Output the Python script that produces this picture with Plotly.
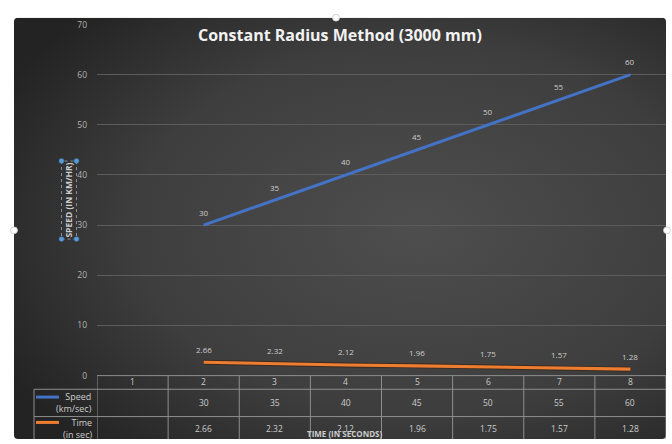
import base64
import plotly.graph_objects as go

# ---- data ----
categories = [1, 2, 3, 4, 5, 6, 7, 8]
speed = [None, 30, 35, 40, 45, 50, 55, 60]
time_sec = [None, 2.66, 2.32, 2.12, 1.96, 1.75, 1.57, 1.28]
series_names = ["Speed<br>(km/sec)", "Time<br>(in sec)"]
title_text = "Constant Radius Method (3000 mm)"
y_title = "SPEED (IN KM/HR)"
x_title = "TIME (IN SECONDS)"

W, H = 672, 444
BLUE = "#4472C4"
ORANGE = "#ED7D31"
LBL = "#cccccc"
GRID = "#5c5c5c"
TBL = "#8e8e8e"
FONT = "Open Sans"


def px(x):
    return x / W


def py(y):
    return 1 - y / H


def ann(x, y, text, size=8.5, color=LBL, xref="paper", yref="paper", **kw):
    d = dict(x=x, y=y, xref=xref, yref=yref, text=text, showarrow=False,
             xanchor="center", yanchor="middle", font=dict(size=size, color=color, family=FONT))
    d.update(kw)
    return d


svg = (
    "<svg xmlns='http://www.w3.org/2000/svg' width='652' height='432'>"
    "<defs><radialGradient id='g' cx='0.62' cy='0.5' r='0.72'>"
    "<stop offset='0' stop-color='#4e4e4e'/><stop offset='0.6' stop-color='#3e3e3e'/>"
    "<stop offset='1' stop-color='#232323'/></radialGradient></defs>"
    "<rect width='652' height='432' rx='4' fill='url(#g)'/></svg>"
)
bg_uri = "data:image/svg+xml;base64," + base64.b64encode(svg.encode()).decode()

fig = go.Figure()
fig.add_trace(go.Scatter(x=categories, y=speed, mode="lines",
                         line=dict(color=BLUE, width=3), hoverinfo="skip", showlegend=False))
fig.add_trace(go.Scatter(x=categories, y=time_sec, mode="lines",
                         line=dict(color="#3a2a20", width=5), hoverinfo="skip", showlegend=False))
fig.add_trace(go.Scatter(x=categories, y=time_sec, mode="lines",
                         line=dict(color=ORANGE, width=3.2), hoverinfo="skip", showlegend=False))

annotations = []
shapes = []

# data labels
for c, v in zip(categories, speed):
    if v is not None:
        annotations.append(ann(c, v, str(v), size=8, xref="x", yref="y", yshift=13))
for c, v in zip(categories, time_sec):
    if v is not None:
        annotations.append(ann(c, v, f"{v:.2f}", size=8, xref="x", yref="y", yshift=13))

# title & axis titles
annotations.append(ann(px(340), py(30), f"<b>{title_text}</b>", size=16, color="#f2f2f2"))
annotations.append(ann(px(68.5), py(199), f"<b>{y_title}</b>", size=8.5, textangle=-90))
annotations.append(ann(px(345), py(438), f"<b>{x_title}</b>", size=8))

# data table
row_hdr, row_s, row_t = py(385.5), py(407), py(433)
for c in categories:
    annotations.append(ann(c, row_hdr, str(c), xref="x"))
for c, v in zip(categories, speed):
    annotations.append(ann(c, row_s, "" if v is None else str(v), xref="x"))
for c, v in zip(categories, time_sec):
    annotations.append(ann(c, row_t, "" if v is None else f"{v:.2f}", xref="x"))

# legend keys in table
for name, yy, col in [(series_names[0], row_s, BLUE), (series_names[1], row_t, ORANGE)]:
    annotations.append(ann(px(94), yy, name, size=9, xanchor="right", align="right"))
    shapes.append(dict(type="line", xref="paper", yref="paper", x0=px(36), x1=px(59),
                       y0=yy + 6 / H, y1=yy + 6 / H, line=dict(color=col, width=3)))

# table lines
ymin_pap = py(444)
shapes.append(dict(type="line", xref="x", yref="paper", x0=0.5, x1=8.5, y0=py(379), y1=py(379),
                   line=dict(color=TBL, width=1)))
for yl in [393, 421]:
    shapes.append(dict(type="line", xref="paper", yref="paper", x0=px(34), x1=px(666), y0=py(yl), y1=py(yl),
                       line=dict(color=TBL, width=1)))
shapes.append(dict(type="line", xref="paper", yref="paper", x0=px(34), x1=px(34), y0=py(393), y1=ymin_pap,
                   line=dict(color=TBL, width=1)))
for i in range(len(categories) + 1):
    xe = categories[0] - 0.5 + i
    shapes.append(dict(type="line", xref="x", yref="paper", x0=xe, x1=xe, y0=py(379), y1=ymin_pap,
                       line=dict(color=TBL, width=1)))

# selection box around y title
shapes.append(dict(type="rect", xref="paper", yref="paper", x0=px(61.5), x1=px(76.5), y0=py(239), y1=py(159),
                   line=dict(color="#9aa8b8", width=0.8, dash="dot")))
for hx, hy in [(61.5, 159), (76.5, 159), (61.5, 239), (76.5, 239)]:
    shapes.append(dict(type="circle", xref="paper", yref="paper", x0=px(hx - 2.5), x1=px(hx + 2.5),
                       y0=py(hy + 2.5), y1=py(hy - 2.5), fillcolor="#5b9bd5",
                       line=dict(color="#3a78b5", width=0.5)))
# chart selection handles
for hx, hy in [(14, 230), (336, 12), (667, 230)]:
    shapes.append(dict(type="circle", xref="paper", yref="paper", x0=px(hx - 3.5), x1=px(hx + 3.5),
                       y0=py(hy + 3.5), y1=py(hy - 3.5), fillcolor="#ffffff",
                       line=dict(color="#c8c8c8", width=0.8), layer="above"))

fig.update_layout(
    width=W, height=H,
    autosize=False,
    margin=dict(l=0, r=0, t=0, b=0),
    paper_bgcolor="white",
    plot_bgcolor="rgba(0,0,0,0)",
    showlegend=False,
    images=[dict(source=bg_uri, xref="paper", yref="paper", x=px(14), y=py(12),
                 sizex=652 / W, sizey=432 / H, sizing="stretch", layer="below",
                 xanchor="left", yanchor="top")],
    xaxis=dict(domain=[px(97), px(666)], range=[0.5, 8.5], showticklabels=False, showgrid=False,
               zeroline=False, showline=False, fixedrange=True),
    yaxis=dict(domain=[py(379), py(19)], range=[0, 70], tickvals=[0, 10, 20, 30, 40, 50, 60, 70],
               showgrid=True, gridcolor=GRID, gridwidth=1, zeroline=False, showline=False,
               ticks="", ticklabelstandoff=9,
               tickfont=dict(size=8.5, color="#b4b4b4", family=FONT), fixedrange=True),
    annotations=annotations,
    shapes=shapes,
)

post = (
    "document.body.style.margin='0';document.body.style.overflow='hidden';"
    "var gd=document.getElementById('{plot_id}');"
    "Plotly.relayout(gd,{width:672,height:444});"
)
fig.write_html("out.html", post_script=post, config={"responsive": False, "displayModeBar": False})
